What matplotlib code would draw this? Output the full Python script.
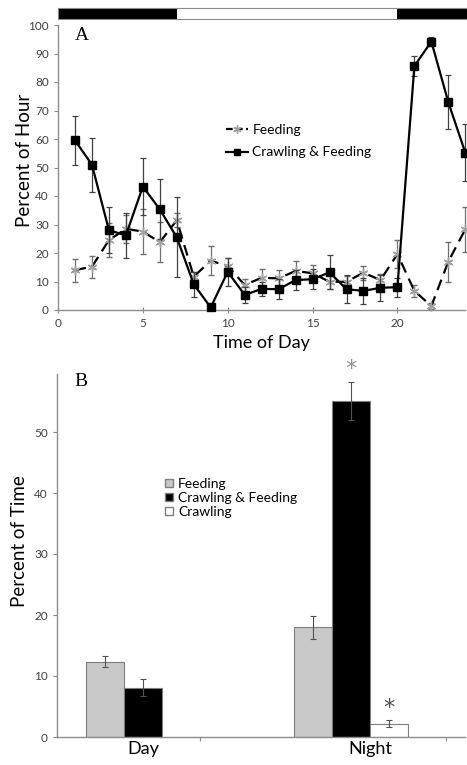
import matplotlib.pyplot as plt
import matplotlib.transforms as mtransforms
from matplotlib.patches import Patch
from matplotlib.lines import Line2D
import numpy as np

# Panel A data: percent of each hour
hours = list(range(1, 25))
feeding = [14.0, 15.2, 24.5, 28.5, 27.5, 23.8, 31.5, 11.7, 17.3, 15.4, 8.8, 11.3,
           11.1, 13.7, 12.9, 9.9, 9.9, 13.1, 10.5, 19.6, 6.7, 1.4, 17.0, 28.3]
feeding_err = [4.0, 3.8, 6.0, 5.0, 8.0, 7.0, 2.5, 1.7, 5.0, 2.7, 2.2, 3.0,
               3.0, 3.5, 3.0, 2.5, 2.0, 2.5, 2.0, 5.0, 2.0, 1.0, 7.0, 8.0]
crawl_feed = [59.5, 51.0, 28.0, 26.2, 43.3, 35.3, 25.5, 9.0, 0.9, 13.4, 5.3, 7.4,
              7.3, 10.5, 10.8, 13.2, 7.3, 6.7, 7.8, 8.0, 85.6, 94.2, 72.9, 55.2]
crawl_feed_err = [8.5, 9.5, 8.0, 8.0, 10.0, 10.5, 14.0, 4.5, 0.5, 5.0, 2.7, 2.5,
                  3.5, 3.5, 3.5, 6.0, 5.0, 4.6, 4.5, 3.3, 3.5, 1.7, 9.4, 10.0]
lights_on = 7
lights_off = 20

# Panel B data: percent of time
periods = ["Day", "Night"]
b_feeding = [12.3, 18.0]
b_feeding_err = [0.9, 1.9]
b_crawl_feed = [8.1, 55.1]
b_crawl_feed_err = [1.4, 3.1]
b_crawling = [0.0, 2.2]
b_crawling_err = [0.0, 0.6]

font = "Lato"
tick_col = "#404040"
axis_col = "#8c8c8c"

fig = plt.figure(figsize=(4.67, 7.65), dpi=100)
W, H = 467, 765


def fig_rect(x0, y0, x1, y1):
    return [x0 / W, 1 - y1 / H, (x1 - x0) / W, (y1 - y0) / H]


# light/dark bar
axbar = fig.add_axes(fig_rect(58, 8, 467, 19))
xmax_bar = 24 * (467 - 58) / (465.3 - 58)
axbar.barh(0, lights_on, left=0, height=1, color="black")
axbar.barh(0, lights_off - lights_on, left=lights_on, height=1, color="white")
axbar.barh(0, xmax_bar - lights_off, left=lights_off, height=1, color="black")
axbar.set_xlim(0, xmax_bar)
axbar.set_ylim(-0.5, 0.5)
axbar.set_xticks([])
axbar.set_yticks([])
for s in axbar.spines.values():
    s.set_color(axis_col)
    s.set_linewidth(0.8)

# Panel A
axA = fig.add_axes(fig_rect(58, 25, 465.3, 310))
axA.errorbar(hours, feeding, yerr=feeding_err, color="black", ls=(0, (5, 3)), lw=1.6,
             marker=(6, 2, 0), ms=7, mec="#a0a0a0", mew=1.0,
             ecolor="#707070", elinewidth=0.9, capsize=2.3, capthick=0.9,
             label="Feeding", clip_on=False, zorder=3)
axA.errorbar(hours, crawl_feed, yerr=crawl_feed_err, color="black", ls="-", lw=1.6,
             marker="s", ms=6, mfc="black", mec="black",
             ecolor="#404040", elinewidth=0.9, capsize=2.3, capthick=0.9,
             label="Crawling & Feeding", clip_on=False, zorder=4)
axA.set_xlim(0, 24)
axA.set_ylim(0, 100)
axA.set_xticks([0, 5, 10, 15, 20])
axA.set_yticks(range(0, 101, 10))
for side in ["top", "right"]:
    axA.spines[side].set_visible(False)
for side in ["left", "bottom"]:
    axA.spines[side].set_color(axis_col)
    axA.spines[side].set_linewidth(1.0)
axA.tick_params(colors=axis_col, labelcolor=tick_col, labelsize=8.5, length=3, width=0.8)
axA.tick_params(axis="x", direction="inout", length=5)
for lab in axA.get_xticklabels() + axA.get_yticklabels():
    lab.set_fontfamily(font)
axA.set_xlabel("Time of Day", fontfamily=font, fontsize=13, labelpad=4)
axA.set_ylabel("Percent of Hour", fontfamily=font, fontsize=13.5)
axA.yaxis.set_label_coords(-0.062, 0.526)
axA.text(82 / W, 1 - 35 / H, "A", transform=fig.transFigure, fontfamily="Liberation Serif",
         fontsize=14, ha="center", va="center")
handlesA = [Line2D([], [], color="black", ls=(0, (3, 1.5)), lw=1.6, marker=(6, 2, 0), ms=6,
                   mec="#a0a0a0"),
            Line2D([], [], color="black", ls="-", lw=1.6, marker="s", ms=5)]
axA.legend(handlesA, ["Feeding", "Crawling & Feeding"], loc="upper left",
           bbox_to_anchor=(226 / W, 1 - 124 / H), bbox_transform=fig.transFigure,
           frameon=False, prop={"family": font, "size": 10}, handlelength=1.6,
           handletextpad=0.3, labelspacing=0.75, borderpad=0, borderaxespad=0)

# Panel B
axB = fig.add_axes(fig_rect(57, 374, 465, 737))
px_per_unit = 207.5
w = 38 / px_per_unit
x = np.arange(len(periods))
err_kw = dict(ecolor="#505050", elinewidth=0.8, capsize=2, capthick=0.8)
axB.bar(x - w, b_feeding, w, yerr=b_feeding_err, color="#c9c9c9", edgecolor="#7f7f7f",
        linewidth=0.8, error_kw=err_kw, label="Feeding")
axB.bar(x, b_crawl_feed, w, yerr=b_crawl_feed_err, color="black", edgecolor="#7f7f7f",
        linewidth=0.8, error_kw=err_kw, label="Crawling & Feeding")
axB.bar(x[1:] + w, b_crawling[1:], w, yerr=b_crawling_err[1:], color="white",
        edgecolor="#7f7f7f", linewidth=0.8, error_kw=err_kw, label="Crawling")
axB.set_xlim((57 - 143) / px_per_unit, (465 - 143) / px_per_unit)
axB.set_ylim(0, (737 - 374) / 6.1)
axB.set_yticks(range(0, 51, 10))
axB.set_xticks(x)
axB.set_xticklabels(periods, fontfamily=font, fontsize=13, color="black")
axB.set_xticks([(200 - 143) / px_per_unit, (446 - 143) / px_per_unit], minor=True)
axB.tick_params(axis="x", which="major", length=0, pad=3)
axB.tick_params(axis="x", which="minor", length=3, color=axis_col, width=0.8)
night_lab = axB.get_xticklabels()[1]
night_lab.set_transform(night_lab.get_transform() +
                        mtransforms.ScaledTranslation(20 / 100, 0, fig.dpi_scale_trans))
axB.tick_params(axis="y", colors=axis_col, labelcolor=tick_col, labelsize=8.5, length=3, width=0.8)
for lab in axB.get_yticklabels():
    lab.set_fontfamily(font)
for side in ["top", "right"]:
    axB.spines[side].set_visible(False)
for side in ["left", "bottom"]:
    axB.spines[side].set_color(axis_col)
    axB.spines[side].set_linewidth(1.0)
axB.set_ylabel("Percent of Time", fontfamily=font, fontsize=13.5)
axB.yaxis.set_label_coords(-0.071, 0.54)
axB.text(1, b_crawl_feed[1] + b_crawl_feed_err[1] + 2.2, "*", ha="center", va="center",
         fontsize=16, color="#909090", fontfamily="DejaVu Sans", clip_on=False)
axB.text(1 + w, b_crawling[1] + b_crawling_err[1] + 2.0, "*", ha="center", va="center",
         fontsize=16, color="#505050", fontfamily="DejaVu Sans", clip_on=False)
axB.text(81 / W, 1 - 382 / H, "B", transform=fig.transFigure, fontfamily="Liberation Serif",
         fontsize=14, ha="center", va="center")
handlesB = [Patch(facecolor="#c9c9c9", edgecolor="#7f7f7f"),
            Patch(facecolor="black", edgecolor="#7f7f7f"),
            Patch(facecolor="white", edgecolor="#7f7f7f")]
axB.legend(handlesB, ["Feeding", "Crawling & Feeding", "Crawling"], loc="upper left",
           bbox_to_anchor=(165 / W, 1 - 478 / H), bbox_transform=fig.transFigure,
           frameon=False, prop={"family": font, "size": 10}, handlelength=0.55,
           handleheight=0.55, handletextpad=0.4, labelspacing=0.15, borderpad=0,
           borderaxespad=0)

fig.savefig("out.png", dpi=100)
